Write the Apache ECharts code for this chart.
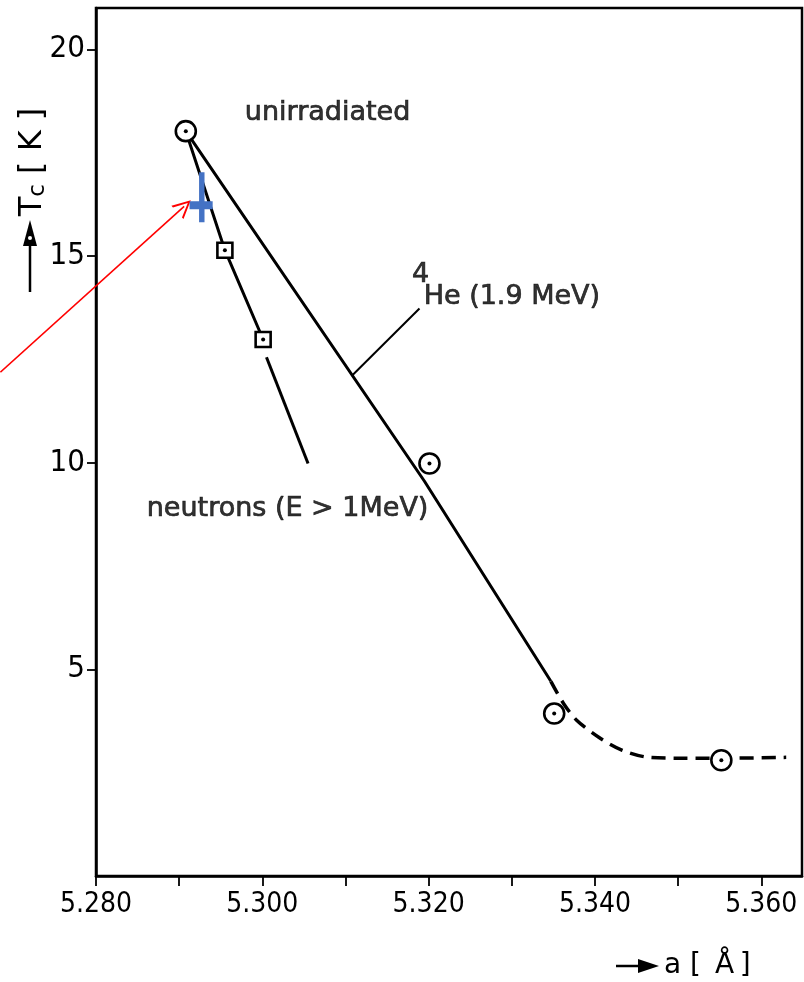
<!DOCTYPE html>
<html><head><meta charset="utf-8">
<script src="https://cdn.jsdelivr.net/npm/echarts@6/dist/echarts.min.js"></script>
<style>html,body{margin:0;padding:0;background:#fff}#c{width:804px;height:982px}</style>
</head><body><div id="c"></div>
<script>
// ---- data ----
const xTicks = [5.28, 5.29, 5.30, 5.31, 5.32, 5.33, 5.34, 5.35, 5.36];
const xLabels = [5.28, 5.30, 5.32, 5.34, 5.36];
const yTicks = [5, 10, 15, 20];
const circlePoints = [[5.2908, 18.02], [5.3201, 9.98], [5.3351, 3.93], [5.3552, 2.80]];
const squarePoints = [[5.2955, 15.14], [5.3001, 12.98]];
const neutronLine = [[5.2908, 18.02], [5.2955, 15.14], [5.3001, 12.98]];
const neutronExtrap = [[5.3005, 12.55], [5.3055, 9.98]];
const heliumSolid = [[5.2908, 18.02], [5.3195, 9.55], [5.3347, 4.71]];
const heliumDashed = [[5.3347, 4.71], [5.3362, 4.18], [5.3378, 3.77], [5.3405, 3.35], [5.3433, 3.04], [5.3465, 2.87], [5.3505, 2.85], [5.3550, 2.85], [5.3630, 2.87]];
const heLeader = [[5.3108, 12.11], [5.3189, 13.73]];
const blueCross = [[5.2927, 16.23]];
const redArrow = [[5.2685, 12.19], [5.2906, 16.20]];
const annotationTexts = ['unirradiated', '4', 'He (1.9 MeV)', 'neutrons (E > 1MeV)'];
const annotationAnchors = [[5.2979, 18.45], [5.3180, 14.53], [5.3194, 14.00], [5.2861, 8.87]];

const numFont = "'DejaVu Sans Condensed', 'Liberation Sans Narrow', 'DejaVu Sans', sans-serif";
const txtFont = "'DejaVu Sans', 'Liberation Sans', sans-serif";
const ink = '#000';

const chart = echarts.init(document.getElementById('c'), null, { renderer: 'canvas' });
const option = {
  animation: false,
  backgroundColor: '#fff',
  grid: { left: 96, right: 2, top: 8, bottom: 106, show: true, borderColor: ink, borderWidth: 2.5, backgroundColor: 'transparent' },
  xAxis: {
    type: 'value', min: 5.28, max: 5.3649,
    axisLine: { show: true, lineStyle: { color: ink, width: 2.5 } },
    axisTick: { show: true, length: 10, customValues: xTicks, lineStyle: { color: ink, width: 1.8 } },
    axisLabel: { customValues: xLabels, margin: 15, color: ink, fontSize: 28, fontFamily: numFont, formatter: v => v.toFixed(3) },
    splitLine: { show: false }
  },
  yAxis: {
    type: 'value', min: 0, max: 21,
    axisLine: { show: true, lineStyle: { color: ink, width: 2.5 } },
    axisTick: { show: true, length: 9, customValues: yTicks, lineStyle: { color: ink, width: 1.8 } },
    axisLabel: { customValues: yTicks, margin: 11, color: ink, fontSize: 31, fontFamily: numFont },
    splitLine: { show: false }
  },
  series: [
    { type: 'line', data: heliumSolid, symbol: 'none', lineStyle: { color: ink, width: 3 }, z: 2 },
    { type: 'line', data: heliumDashed, symbol: 'none', smooth: 0.3, lineStyle: { color: ink, width: 3.5, type: [14, 8] }, z: 2 },
    { type: 'line', data: neutronLine, symbol: 'none', lineStyle: { color: ink, width: 3 }, z: 2 },
    { type: 'line', data: neutronExtrap, symbol: 'none', lineStyle: { color: ink, width: 3 }, z: 2 },
    { type: 'line', data: heLeader, symbol: 'none', lineStyle: { color: ink, width: 2 }, z: 2 },
    { type: 'scatter', data: circlePoints, symbol: 'circle', symbolSize: 20, itemStyle: { color: '#fff', borderColor: ink, borderWidth: 2.6, opacity: 1 }, z: 3 },
    { type: 'scatter', data: squarePoints, symbol: 'rect', symbolSize: 15, itemStyle: { color: '#fff', borderColor: ink, borderWidth: 2.6, opacity: 1 }, z: 3 },
    { type: 'scatter', data: circlePoints.concat(squarePoints), symbol: 'circle', symbolSize: 4, itemStyle: { color: ink, opacity: 1 }, z: 4 },
    {
      type: 'scatter', data: annotationAnchors.map((p, i) => ({ value: p, name: annotationTexts[i] })),
      symbolSize: 0, z: 5, silent: true,
      label: {
        show: true, position: 'right', distance: 0, color: ink, fontFamily: txtFont, fontSize: 27,
        textBorderColor: ink, textBorderWidth: 0.7,
        formatter: p => p.name
      },
      itemStyle: { color: 'transparent' }
    },
    {
      type: 'lines', coordinateSystem: 'cartesian2d', clip: false, z: 6,
      data: [{ coords: redArrow }],
      symbol: ['none', 'path://M10,0 L20,22 L17.5,22 L10,5 L2.5,22 L0,22 Z'], symbolSize: [14, 18],
      lineStyle: { color: '#ff0000', width: 1.6, opacity: 1 }
    },
    {
      type: 'scatter', data: blueCross, z: 7,
      symbol: 'path://M14,0 L22,0 L22,29 L34,29 L34,37 L22,37 L22,50 L14,50 L14,37 L0,37 L0,29 L14,29 Z',
      symbolSize: [34, 50], symbolOffset: [-0.5, -8], symbolKeepAspect: true,
      itemStyle: { color: '#4472c4', opacity: 1 }
    }
  ],
  graphic: [
    // y-axis name: arrow + rotated text
    { type: 'line', shape: { x1: 30, y1: 292, x2: 30, y2: 236 }, style: { stroke: ink, lineWidth: 2.5 } },
    { type: 'polygon', shape: { points: [[23, 246], [37, 246], [30, 220]] }, style: { fill: ink } },
    { type: 'circle', shape: { cx: 30, cy: 238, r: 2 }, style: { fill: '#fff' } },
    {
      type: 'text', x: 33, y: 162, rotation: Math.PI / 2,
      style: {
        text: '{t|T}{s|c}{t| [ K ]}', align: 'center', verticalAlign: 'middle',
        rich: {
          t: { fontSize: 32, fontFamily: txtFont, fill: ink },
          s: { fontSize: 23, fontFamily: txtFont, fill: ink, padding: [10, 0, 0, 0] }
        }
      }
    },
    // x-axis name
    { type: 'line', shape: { x1: 616, y1: 966, x2: 645, y2: 966 }, style: { stroke: ink, lineWidth: 2.5 } },
    { type: 'polygon', shape: { points: [[638, 959], [638, 973], [659, 966]] }, style: { fill: ink } },
    { type: 'text', x: 664, y: 966, style: { text: 'a [\u2002Å\u2009]', fontSize: 28, fontFamily: txtFont, fill: ink, verticalAlign: 'middle' } }
  ]
};
chart.setOption(option);
</script>
</body></html>
